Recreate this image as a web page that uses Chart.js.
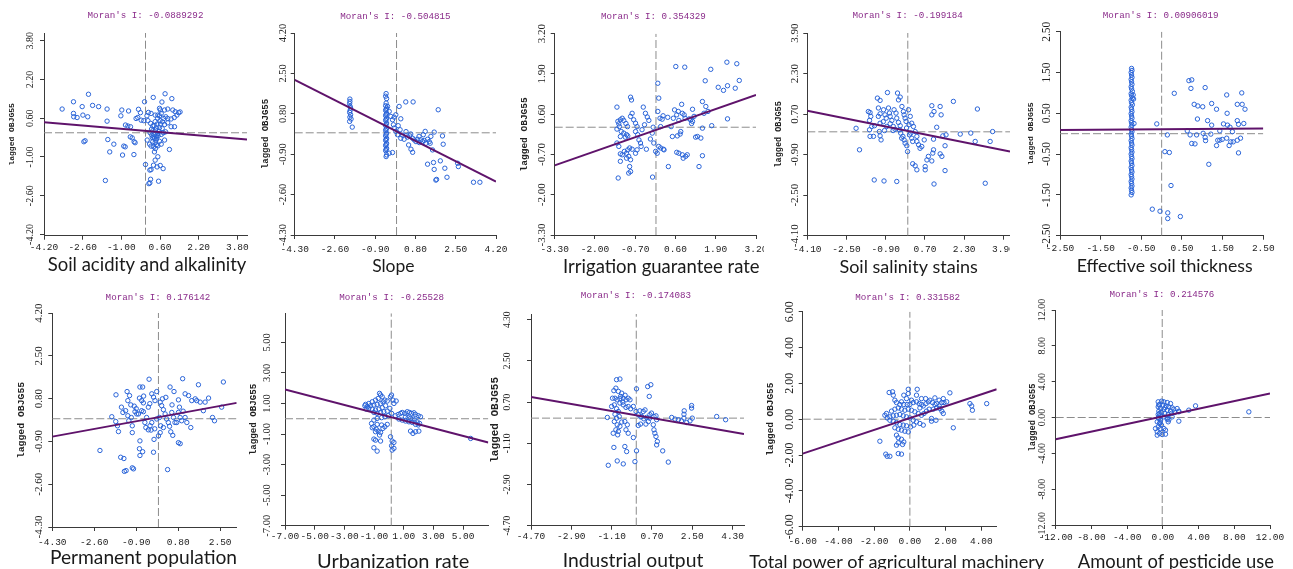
<!DOCTYPE html>
<html>
<head>
<meta charset="utf-8">
<script src="https://cdn.jsdelivr.net/npm/chart.js@4.4.1/dist/chart.umd.min.js"></script>
<style>
  body { margin: 0; background: #fff; width: 1293px; height: 569px; overflow: hidden; position: relative; }
  canvas { position: absolute; }
</style>
</head>
<body>
<script>
// x axis names and Moran's I values, one per panel
const names = ['Soil acidity and alkalinity', 'Slope', 'Irrigation guarantee rate', 'Soil salinity stains',
  'Effective soil thickness', 'Permanent population', 'Urbanization rate', 'Industrial output',
  'Total power of agricultural machinery', 'Amount of pesticide use'];
const moran = ['-0.0889292', '-0.504815', '0.354329', '-0.199184', '0.00906019',
  '0.176142', '-0.25528', '-0.174083', '0.331582', '0.214576'];

// axis ranges and tick values
const xRange = [[-4.2, 4.2], [-4.3, 4.2], [-3.3, 3.2], [-4.1, 4.17], [-2.5, 2.5],
  [-4.3, 3.17], [-7, 6.7], [-4.7, 4.81], [-6, 4.86], [-12, 12]];
const yRange = [[-4.25, 4.12], [-4.3, 4.2], [-3.3, 3.2], [-4.1, 3.9], [-2.5, 2.5],
  [-4.3, 4.2], [-7, 6.9], [-4.7, 4.55], [-6, 6], [-12, 12]];
const xTicks = [[-4.2, -2.6, -1, 0.6, 2.2, 3.8], [-4.3, -2.6, -0.9, 0.8, 2.5, 4.2], [-3.3, -2, -0.7, 0.6, 1.9, 3.2],
  [-4.1, -2.5, -0.9, 0.7, 2.3, 3.9], [-2.5, -1.5, -0.5, 0.5, 1.5, 2.5], [-4.3, -2.6, -0.9, 0.8, 2.5],
  [-7, -5, -3, -1, 1, 3, 5], [-4.7, -2.9, -1.1, 0.7, 2.5, 4.3], [-6, -4, -2, 0, 2, 4], [-12, -8, -4, 0, 4, 8, 12]];
const yTicks = [[-4.2, -2.6, -1, 0.6, 2.2, 3.8], [-4.3, -2.6, -0.9, 0.8, 2.5, 4.2], [-3.3, -2, -0.7, 0.6, 1.9, 3.2],
  [-4.1, -2.5, -0.9, 0.7, 2.3, 3.9], [-2.5, -1.5, -0.5, 0.5, 1.5, 2.5], [-4.3, -2.6, -0.9, 0.8, 2.5, 4.2],
  [-7, -5, -3, -1, 1, 3, 5], [-4.7, -2.9, -1.1, 0.7, 2.5, 4.3], [-6, -4, -2, 0, 2, 4, 6], [-12, -8, -4, 0, 4, 8, 12]];

// mean lines (x, y) and fitted line end points
const means = [[0, 0], [0, 0], [-0.03, 0.18], [0, 0], [0, 0], [0, 0], [0.16, 0], [0, 0], [0, 0], [-0.07, 0]];
const fits = [[[-4.2, 0.43], [4.2, -0.28]], [[-4.3, 2.23], [4.2, -2.05]], [[-3.3, -1.05], [3.2, 1.22]],
  [[-4.1, 0.83], [4.17, -0.78]], [[-2.5, 0.09], [2.5, 0.13]], [[-4.3, -0.71], [3.17, 0.63]],
  [[-7, 1.92], [6.7, -1.55]], [[-4.7, 0.92], [4.81, -0.69]], [[-6, -1.92], [4.86, 1.67]], [[-12, -2.42], [12, 2.68]]];

// scatter points [x, lagged y]
const acidity = [[-3.45,0.98],[-2.98,1.28],[-2.36,1.59],[-2.62,1.08],[-2.19,1.13],[-1.94,1.08],[-1.59,0.98],[-2.98,0.80],
  [-2.97,0.66],[-2.83,0.63],[-2.59,0.73],[-2.39,0.66],[-1.59,0.48],[-2.55,-0.37],[-2.50,-0.33],[-1.56,-0.28],[-1.31,-0.47],
  [-1.48,-0.79],[-0.98,0.94],[-0.70,0.90],[-1.02,0.70],[-0.83,0.32],[-0.73,0.28],[-0.62,0.25],[-0.63,-0.17],[-0.55,-0.21],
  [-0.47,-0.37],[-0.43,-0.41],[-0.90,-0.55],[-0.84,-0.58],[-0.95,-0.92],[-0.48,-0.90],[-1.66,-1.97],[-0.04,1.28],[-0.29,0.97],
  [-0.21,0.83],[-0.32,0.63],[-0.39,0.59],[-0.18,0.52],[-0.07,0.50],[0.32,1.46],[0.81,1.61],[1.09,1.41],[0.68,1.27],[0.61,0.94],
  [0.79,0.94],[0.92,0.98],[1.13,0.94],[1.23,0.87],[1.37,0.83],[1.43,0.86],[1.30,0.73],[1.19,0.63],[1.06,0.57],[0.92,0.59],
  [0.84,0.66],[0.76,0.59],[0.58,0.70],[0.51,0.73],[0.40,0.73],[0.23,0.80],[0.12,0.84],[0.06,0.70],[0.10,0.50],[0.21,0.39],
  [0.30,0.28],[0.40,0.46],[0.48,0.36],[0.62,0.36],[0.79,0.34],[0.92,0.41],[1.06,0.25],[1.20,0.25],[0.69,0.18],[0.58,0.21],
  [0.41,0.11],[0.30,0.08],[0.19,0.00],[0.26,-0.10],[0.34,-0.17],[0.44,-0.14],[0.51,-0.03],[0.65,-0.07],[0.74,0.00],[0.83,0.04],
  [0.37,-0.23],[0.44,-0.30],[0.30,-0.37],[0.17,-0.47],[0.07,-0.30],[0.23,-0.55],[0.34,-0.58],[0.41,-0.65],[0.51,-0.54],
  [0.65,-0.47],[0.79,-0.30],[0.99,-0.69],[0.37,-0.79],[0.51,-0.99],[0.40,-1.13],[0.33,-1.34],[0.48,-1.41],[0.61,-1.35],
  [0.73,-1.48],[0.00,-1.31],[0.18,-1.54],[0.23,-1.52],[0.21,-1.92],[0.14,-2.10],[0.18,-2.07],[0.54,-2.00],[0.58,1.01],[0.65,0.80],
  [0.28,-0.20],[0.36,-0.08],[0.46,-0.22],[0.40,-0.40],[0.52,-0.12],[0.25,0.15],[0.55,0.05],[0.45,0.20],[0.36,0.30],[0.60,0.50],
  [0.70,0.45],[0.50,0.60],[0.45,-0.50],[0.58,-0.35]];
const slope = [[-1.97,1.42],[-1.97,1.32],[-1.98,1.23],[-1.96,1.11],[-1.94,1.04],[-1.96,0.94],[-1.98,0.86],[-1.94,0.76],
  [-1.97,0.66],[-1.92,0.58],[-1.98,0.48],[-1.87,0.24],
  [-0.44,1.65],[-0.46,1.54],[-0.42,1.44],[-0.44,1.25],[-0.46,1.14],[-0.42,1.04],[-0.44,0.99],[-0.46,0.94],[-0.42,0.83],
  [-0.44,0.78],[-0.46,0.72],[-0.42,0.62],[-0.44,0.57],[-0.46,0.52],[-0.42,0.41],[-0.44,0.36],[-0.46,0.30],[-0.42,0.20],
  [-0.44,0.15],[-0.46,0.10],[-0.42,-0.01],[-0.44,-0.06],[-0.46,-0.13],[-0.42,-0.23],[-0.44,-0.28],[-0.46,-0.32],[-0.42,-0.44],
  [-0.44,-0.49],[-0.46,-0.54],[-0.42,-0.65],[-0.44,-0.70],[-0.46,-0.75],[-0.42,-0.93],[-0.44,-1.00],
  [-0.38,1.11],[-0.31,0.90],[-0.24,0.69],[-0.17,0.55],[-0.13,0.34],[-0.10,0.20],[-0.03,0.06],[-0.31,-0.86],[-0.17,-0.83],
  [0.11,1.11],[0.39,1.30],[0.70,1.30],[0.18,0.59],[-0.03,0.76],[-0.10,0.66],[0.07,0.30],[0.15,0.13],[0.04,-0.08],[0.18,-0.23],
  [0.32,-0.27],[0.46,-0.18],[0.56,-0.13],[0.68,-0.23],[0.75,-0.30],[0.89,-0.27],[1.03,-0.30],[1.17,-0.32],[1.31,-0.27],
  [1.21,0.06],[1.13,-0.08],[1.45,-0.15],[1.59,0.03],[1.94,-0.13],[1.76,0.97],[1.97,-0.48],[1.42,-0.44],[1.52,-0.72],[0.51,-0.51],
  [0.61,-0.69],[0.68,-0.82],[1.31,-1.32],[1.56,-1.25],[1.85,-1.18],[1.59,-1.54],[1.66,-1.99],[1.69,-1.96],[2.04,-1.49],
  [2.13,-1.87],[2.58,-1.28],[2.61,-1.42],[3.25,-2.08],[3.52,-2.08],[0.82,-0.37],[0.96,-0.41],[1.10,-0.37],[1.24,-0.44],
  [1.38,-0.37],[0.25,-0.10],[0.40,0.05],[0.60,-0.05],[0.95,-0.15]];
const irrigation = [[-1.29,0.83],[-1.26,0.37],[-1.23,0.29],[-1.21,0.20],[-1.29,0.12],[-1.18,0.42],[-1.12,0.47],[-1.07,0.40],
  [-1.15,0.04],[-1.07,-0.01],[-0.98,-0.06],[-1.18,-0.12],[-1.02,-0.14],[-0.94,-0.10],[-1.29,-0.33],[-1.23,-0.44],[-1.18,-0.68],
  [-1.12,-0.71],[-1.05,-0.60],[-0.98,-0.66],[-0.94,-0.55],[-0.88,-0.49],[-0.80,-0.53],[-0.91,-0.76],[-0.85,-0.87],[-0.98,-0.82],
  [-1.18,-0.92],[-0.88,-1.09],[-0.85,-1.25],[-0.91,-1.30],[-1.25,-1.46],[-0.85,1.15],[-0.82,1.06],[-0.80,0.63],[-0.85,0.53],
  [-0.75,0.42],[-0.69,0.31],[-0.64,0.20],[-0.69,0.04],[-0.62,-0.06],[-0.58,-0.23],[-0.53,-0.33],[-0.51,-0.44],[-0.64,-0.55],
  [-0.69,-0.66],[-0.44,0.83],[-0.37,0.63],[-0.31,0.51],[-0.26,0.40],[-0.40,0.26],[-0.48,0.10],[-0.34,-0.53],[-0.21,-0.20],
  [-0.15,-0.01],[-0.12,0.18],[-0.10,-0.33],[-0.04,-0.60],[0.01,-0.66],[-0.14,-1.43],[0.03,1.60],[0.06,1.12],[0.03,0.69],
  [0.10,0.47],[0.17,0.44],[0.12,0.20],[0.06,-0.44],[0.12,-0.49],[0.21,-0.53],[0.23,-0.55],[0.37,-1.09],[0.46,0.20],[0.53,0.47],
  [0.57,0.74],[0.64,0.58],[0.69,0.69],[0.71,0.40],[0.75,-0.04],[0.80,0.92],[0.66,-0.10],[0.77,0.04],[0.82,0.63],[0.88,0.58],
  [0.91,0.47],[0.50,-0.12],[0.61,2.14],[0.90,2.12],[0.64,-0.63],[0.71,-0.66],[0.82,-0.71],[0.93,-0.76],[0.85,-0.82],[0.98,-0.71],
  [1.09,0.42],[1.15,0.37],[1.20,0.53],[1.15,0.76],[1.25,-0.14],[1.31,-0.12],[1.47,0.15],[1.47,1.01],[1.58,0.85],[1.65,0.69],
  [1.52,0.63],[1.42,-0.17],[1.47,-0.74],[1.36,-1.09],[1.77,0.23],[1.74,2.05],[1.56,1.68],[1.98,1.47],[2.15,1.37],[2.26,2.28],
  [2.58,2.23],[2.66,1.69],[2.28,1.52],[2.53,1.44],[2.28,0.45],[1.05,0.45],[1.12,0.30],[-0.95,0.20],[-1.00,0.30],[0.20,0.55],[0.35,0.50]];
const salinity = [[-2.11,0.14],[-1.97,-0.71],[-1.61,0.80],[-1.54,0.76],[-1.51,0.61],[-1.56,0.45],[-1.47,0.21],[-1.56,0.08],
  [-1.54,-0.18],[-1.40,-0.18],[-1.36,0.24],[-1.24,1.33],[-1.13,1.24],[-1.20,0.94],[-1.13,0.71],[-1.20,0.61],[-1.13,0.34],
  [-1.16,0.01],[-1.13,-0.16],[-1.09,-0.32],[-0.99,0.87],[-0.93,0.67],[-0.88,0.54],[-0.86,0.21],[-0.83,1.55],[-0.79,0.94],
  [-0.75,0.74],[-0.72,0.61],[-0.65,0.45],[-0.72,0.32],[-0.59,0.21],[-0.56,0.87],[-0.48,0.74],[-0.42,1.53],[-0.38,1.26],
  [-0.31,1.37],[-0.45,0.54],[-0.38,0.37],[-0.31,0.24],[-0.34,0.08],[-0.29,-0.05],[-0.24,1.00],[-0.18,0.80],[-0.15,0.67],
  [-0.11,0.54],[-0.07,0.41],[-0.20,-0.18],[-0.15,-0.32],[-0.11,-0.45],[-0.01,-0.78],[-0.04,-0.55],[0.03,0.87],[0.10,0.61],
  [0.16,0.34],[0.23,0.21],[0.30,0.01],[0.07,-0.12],[0.16,-0.25],[0.20,-0.38],[0.37,-0.18],[0.20,-1.26],[0.30,-1.34],[0.37,-1.50],
  [0.57,-0.58],[0.67,-0.32],[0.84,-0.97],[0.78,-1.11],[0.71,-1.37],[0.71,-1.50],[0.98,1.03],[0.98,0.67],[1.07,0.80],[1.18,0.18],
  [1.32,1.00],[1.36,0.67],[1.05,-0.29],[1.05,-0.71],[1.02,-0.84],[0.98,-1.15],[1.32,-0.87],[1.39,-0.97],[1.52,-0.55],[1.52,-1.53],
  [1.07,-2.06],[1.43,-0.16],[1.56,-0.12],[1.86,1.20],[2.14,-0.09],[2.57,-0.05],[2.75,-0.38],[2.84,0.90],[3.16,-2.03],[3.36,-0.38],
  [3.46,0.01],[-1.37,-1.90],[-0.97,-1.94],[-0.45,-1.96],[0.37,-0.38],[0.44,-0.51],[0.50,-0.65],[-0.52,0.10],[-0.05,0.15],
  [0.05,0.28],[-0.25,-0.25],[0.12,-0.05],[-0.60,0.05],[-0.95,0.05],[-1.00,0.40]];
const thickness = [[-0.74,1.60],[-0.73,1.55],[-0.75,1.50],[-0.74,1.44],[-0.73,1.38],[-0.75,1.33],[-0.74,1.27],[-0.73,1.21],
  [-0.75,1.15],[-0.74,1.10],[-0.72,1.04],[-0.75,0.98],[-0.74,0.93],[-0.72,0.87],[-0.75,0.82],[-0.74,0.76],[-0.72,0.71],
  [-0.75,0.65],[-0.74,0.60],[-0.73,0.54],[-0.75,0.49],[-0.74,0.43],[-0.73,0.38],[-0.75,0.32],[-0.74,0.27],[-0.73,0.21],
  [-0.75,0.16],[-0.74,0.10],[-0.73,0.05],[-0.75,-0.01],[-0.74,-0.06],[-0.73,-0.12],[-0.75,-0.17],[-0.74,-0.23],[-0.73,-0.28],
  [-0.75,-0.34],[-0.74,-0.39],[-0.73,-0.45],[-0.75,-0.50],[-0.74,-0.56],[-0.73,-0.61],[-0.75,-0.67],[-0.74,-0.72],[-0.73,-0.78],
  [-0.75,-0.83],[-0.74,-0.89],[-0.73,-0.94],[-0.75,-1.00],[-0.74,-1.05],[-0.73,-1.11],[-0.75,-1.17],[-0.74,-1.22],[-0.73,-1.28],
  [-0.75,-1.33],[-0.74,-1.39],[-0.73,-1.44],[-0.75,-1.50],[-0.68,0.25],[-0.69,0.85],[-0.70,0.95],
  [-0.12,0.24],[-0.23,-1.85],[-0.04,-1.90],[0.15,-1.94],[0.15,-2.08],[0.46,-2.03],[0.23,-1.27],[0.08,-0.44],[0.19,-0.46],
  [0.14,-0.03],[0.31,0.99],[0.67,1.30],[0.74,1.32],[0.72,1.11],[1.07,1.13],[0.80,0.72],[0.89,0.68],[1.01,0.66],[1.23,0.74],
  [1.35,0.60],[1.61,0.50],[1.60,0.95],[1.97,1.00],[1.86,0.72],[1.98,0.72],[2.05,0.60],[0.88,0.36],[1.13,0.32],[1.23,0.21],
  [1.52,0.24],[1.62,0.21],[1.68,0.16],[1.86,0.32],[1.89,0.23],[2.02,0.25],[0.63,0.07],[0.70,-0.03],[0.86,-0.03],[1.02,0.01],
  [1.07,-0.09],[1.08,-0.17],[0.74,-0.24],[0.82,-0.25],[1.21,-0.01],[1.38,-0.16],[1.43,-0.16],[1.35,-0.29],[1.49,-0.14],
  [1.60,-0.11],[1.66,-0.29],[1.70,-0.20],[1.76,-0.20],[1.86,-0.16],[1.94,-0.11],[1.89,-0.47],[1.16,-0.75],[1.43,0.07],[1.74,0.05]];
const population = [[-2.37,-1.26],[-1.89,0.08],[-1.73,-0.11],[-1.66,-0.28],[-1.62,-0.51],[-1.72,0.95],[-1.53,-1.53],[-1.40,-1.58],
  [-1.38,-2.09],[-1.31,-2.06],[-1.50,0.46],[-1.44,0.25],[-1.33,0.32],[-1.27,1.08],[-1.17,0.92],[-1.24,0.72],[-1.12,0.55],
  [-1.24,0.12],[-1.10,0.05],[-1.20,-0.08],[-1.06,-0.28],[-1.06,-0.55],[-1.06,-1.95],[-1.01,-1.99],[-0.95,0.28],[-0.88,0.19],
  [-0.98,0.50],[-0.75,1.26],[-0.64,1.26],[-0.77,0.82],[-0.68,0.72],[-0.61,0.63],[-0.68,0.32],[-0.61,0.28],[-0.81,0.19],
  [-0.75,-0.88],[-0.77,-1.19],[-0.64,-1.31],[-0.75,-1.46],[-0.38,1.57],[-0.41,0.46],[-0.48,0.05],[-0.55,-0.15],[-0.51,-0.35],
  [-0.41,-0.44],[-0.34,-0.28],[-0.27,-0.15],[-0.18,-0.82],[-0.20,-1.33],[-0.27,0.99],[-0.20,0.86],[-0.14,0.72],[-0.07,1.08],
  [-0.07,-0.01],[0.04,0.05],[0.09,-0.28],[0.07,-0.55],[0.00,-0.68],[0.07,0.66],[0.13,0.52],[0.20,0.36],[0.16,0.79],[0.27,0.19],
  [0.33,-0.01],[0.40,-0.15],[0.37,-2.02],[0.47,1.26],[0.63,1.08],[0.54,0.25],[0.61,0.05],[0.67,-0.15],[0.50,-0.52],[0.58,-0.66],
  [0.81,0.75],[0.85,0.46],[0.81,0.25],[0.88,0.05],[0.81,-0.95],[0.88,-0.99],[0.74,-0.15],[0.94,-0.08],[1.08,0.05],[1.15,-0.15],
  [1.31,-0.35],[0.98,1.59],[1.08,0.99],[1.22,0.92],[1.35,0.72],[1.55,0.72],[1.62,1.35],[1.69,0.66],[1.49,0.79],[1.82,0.32],
  [1.89,0.66],[2.03,0.82],[2.19,0.05],[2.27,-0.08],[2.63,1.46],[2.56,0.46],[-0.30,-0.45],[-0.15,-0.40],[0.20,-0.35],[0.45,-0.30],
  [-0.60,0.90],[-0.35,0.60],[0.30,0.85],[0.55,0.55],[-0.90,0.40],[1.00,0.30]];
const urbanization = [[-0.63,1.66],[-0.56,1.55],[-0.45,1.44],[-0.72,1.33],[-0.90,1.22],[-1.12,1.11],[-1.35,1.00],[-1.57,0.94],
  [-1.62,0.85],[-1.46,0.79],[-1.24,0.85],[-1.01,0.90],[-0.79,0.94],[-0.56,1.00],[-0.40,1.11],[-0.27,1.22],[-0.11,1.16],
  [-0.22,0.85],[-0.45,0.72],[-0.67,0.63],[-0.90,0.57],[-1.12,0.63],[-1.35,0.68],[-1.53,0.63],[-1.01,0.41],[-0.79,0.35],
  [-0.56,0.41],[-0.34,0.46],[-0.11,0.50],[0.11,1.44],[0.18,1.55],[0.27,1.22],[0.49,1.16],[0.34,1.00],[0.07,0.68],[0.18,0.35],
  [-0.04,0.20],[-0.27,0.13],[-0.49,0.07],[-0.79,0.02],[-1.01,-0.09],[-1.17,-0.31],[-1.01,-0.52],[-0.85,-0.68],[-0.72,-0.81],
  [-0.56,-0.90],[-0.40,-0.63],[-0.27,-0.52],[-0.11,-0.37],[-0.49,-0.41],[-0.79,-0.37],[-1.12,-0.59],[-0.90,-0.85],[-0.63,-1.07],
  [-1.01,-1.33],[-0.90,-1.40],[-0.56,-1.46],[-1.01,-1.90],[-0.79,-2.12],[0.11,-1.18],[0.22,-1.46],[0.34,-1.55],[0.18,-1.77],
  [0.34,-1.94],[0.22,-2.05],[0.45,0.20],[0.63,0.28],[0.79,0.35],[0.90,0.41],[1.08,0.35],[1.24,0.46],[1.39,0.41],[1.53,0.35],
  [1.69,0.39],[1.80,0.28],[1.98,0.20],[2.13,0.13],[1.12,0.13],[1.30,0.07],[1.46,0.02],[1.62,-0.02],[1.75,-0.09],[1.91,-0.20],
  [2.07,-0.31],[1.98,-0.41],[1.80,-0.37],[1.57,-0.24],[1.35,-0.20],[1.12,-0.15],[0.90,-0.09],[0.67,-0.02],[1.46,-0.81],
  [1.62,-0.96],[1.80,-0.85],[2.02,-0.81],[5.51,-1.29]];
const industry = [[-0.88,1.68],[-0.73,1.71],[-0.91,1.31],[-1.00,1.20],[-0.80,1.17],[-0.65,1.09],[-0.95,0.87],[-0.85,0.80],
  [-0.73,0.85],[-0.58,0.87],[-0.46,0.80],[-0.36,0.87],[-0.28,0.80],[-1.06,0.87],[-1.10,0.51],[-0.98,0.58],[-0.88,0.41],
  [-0.73,0.66],[-0.58,0.58],[-0.46,0.47],[-0.36,0.51],[-0.25,0.41],[-0.13,0.51],[-0.80,0.29],[-0.95,0.17],[-0.76,0.07],
  [-0.88,0.00],[-0.98,-0.15],[-0.85,-0.29],[-0.73,-0.36],[-0.91,-0.51],[-0.80,-0.58],[-1.03,-0.66],[-0.83,-0.73],[-0.65,-0.17],
  [-0.51,-0.15],[-0.40,-0.29],[-0.46,-0.51],[-0.36,-0.66],[-0.13,-0.85],[-1.29,0.03],[0.01,1.28],[-0.01,0.29],[0.09,0.15],
  [0.16,0.32],[0.31,0.29],[0.39,0.36],[0.24,0.07],[0.34,-0.03],[0.46,0.03],[0.54,-0.15],[0.43,-0.26],[0.61,0.15],[0.68,0.22],
  [0.79,0.07],[0.88,0.10],[0.91,-0.07],[0.19,-0.26],[0.09,-0.32],[0.51,1.38],[0.65,1.46],[0.58,0.95],[0.76,-0.29],[0.79,-0.51],
  [0.83,-0.66],[0.88,-0.80],[0.94,-1.02],[0.91,-1.17],[1.18,-1.43],[1.43,-1.92],[0.01,-1.43],[-0.06,-1.90],[-0.85,-1.87],
  [-0.58,-2.00],[-1.25,-2.06],[-1.00,-1.28],[-0.51,-1.24],[-0.43,-1.46],[1.58,0.03],[1.73,-0.04],[1.88,-0.07],[2.02,-0.12],
  [2.13,0.00],[2.14,0.32],[2.13,0.17],[2.47,0.55],[2.47,0.44],[2.50,0.00],[3.59,0.07],[3.99,-0.07],[2.25,-0.19],[2.40,-0.12],
  [-0.70,0.95],[-0.60,0.70],[-0.50,1.00],[0.20,0.05],[0.60,0.00]];
const machinery = [[-0.09,1.67],[0.41,1.67],[-0.09,1.43],[-0.34,1.34],[0.37,1.34],[-0.19,1.15],[0.09,1.06],[-0.47,0.97],
  [-0.75,0.93],[-0.84,1.06],[-0.56,0.82],[-0.93,1.34],[-0.97,1.53],[-1.16,1.49],[-0.34,0.82],[-0.15,0.82],[0.00,0.82],[0.19,0.93],
  [0.37,0.97],[0.52,0.87],[0.65,0.82],[0.56,0.63],[0.75,0.74],[0.90,0.87],[1.03,0.97],[1.12,1.06],[1.27,0.93],[1.40,0.82],
  [1.50,0.87],[1.64,0.74],[1.78,0.93],[1.91,0.93],[1.68,0.60],[1.50,0.63],[1.31,0.56],[1.08,0.56],[0.93,0.45],[0.79,0.32],
  [0.65,0.22],[0.47,0.32],[0.28,0.41],[0.09,0.50],[-0.09,0.56],[-0.28,0.50],[-0.47,0.56],[-0.65,0.63],[-0.84,0.56],[-1.03,0.45],
  [-1.31,0.32],[-1.40,0.22],[-1.27,0.07],[-1.12,0.13],[-0.93,0.19],[-0.75,0.22],[-0.56,0.26],[-0.37,0.19],[-0.19,0.13],
  [0.00,0.07],[0.19,-0.06],[0.37,-0.15],[0.56,-0.24],[0.75,-0.33],[0.22,-0.33],[0.04,-0.43],[-0.19,-0.37],[-0.37,-0.33],
  [-0.56,-0.30],[-0.75,-0.19],[-0.93,-0.11],[-1.12,-0.06],[-0.84,-0.48],[-0.65,-0.56],[-0.47,-0.61],[-0.28,-0.67],[-0.09,-0.71],
  [-0.75,-0.89],[-0.65,-1.04],[-0.47,-1.12],[-0.34,-1.27],[-0.65,-1.32],[-0.41,-1.41],[-0.75,-1.45],[-1.68,-1.23],[-1.35,-1.95],
  [-1.27,-2.07],[-1.12,-2.07],[-0.65,-1.92],[-0.47,-1.95],[1.21,0.04],[1.46,-0.06],[1.87,0.32],[1.79,0.45],[2.24,1.47],
  [1.87,1.15],[2.06,0.97],[3.36,0.87],[3.46,0.74],[3.50,0.50],[4.30,0.87],[2.43,-0.48],[1.21,-0.11],[0.88,1.15],[0.65,1.15],
  [1.40,1.19],[1.64,1.06]];
const pesticide = [[-0.52,1.75],[-0.15,1.82],[0.11,1.75],[0.49,1.67],[0.86,1.56],[-0.37,1.45],[0.00,1.38],[0.37,1.30],[0.67,1.19],
  [1.04,1.08],[-0.52,1.19],[-0.26,1.00],[0.11,0.93],[0.49,0.82],[0.86,0.71],[1.23,0.93],[1.60,1.00],[-0.45,0.71],[-0.15,0.56],
  [0.22,0.45],[0.60,0.33],[0.97,0.45],[1.34,0.56],[1.79,0.71],[-0.52,0.33],[-0.26,0.19],[0.11,0.07],[0.49,-0.04],[0.67,-0.26],
  [-0.45,-0.11],[-0.26,-0.30],[-0.63,-0.48],[-0.37,-0.67],[-0.15,-0.86],[-0.52,-1.04],[-0.26,-1.23],[-0.82,-1.23],[0.11,-1.23],
  [0.30,-1.41],[-0.63,-1.60],[-0.37,-1.78],[-0.07,-1.90],[-0.63,-1.97],[0.30,-1.86],[0.49,-0.19],[0.60,-0.48],[1.79,-0.41],
  [2.91,0.82],[3.66,1.30],[9.63,0.63],[1.79,0.63],[1.04,0.07],[-0.40,0.45],[-0.50,0.00],[-0.30,-0.55],[-0.45,1.40],[0.25,1.10]];
const series = [acidity, slope, irrigation, salinity, thickness, population, urbanization, industry, machinery, pesticide];

// where each panel sits on the page (plot box, label offsets, text sizes)
const frames = [
  {L: 44, T: 33, R: 247, B: 235.7, ylo: 13.3, yfs: 10, ytx: 12.3, yts: 8, tY: 16, tdx: 0, xlo: 12, xtY: 265, xts: 18.5, xdx: 1.5, rp: 15},
  {L: 294.7, T: 33, R: 496, B: 235, ylo: 11.7, yfs: 10.5, ytx: 266, yts: 9, tY: 17, tdx: 0, xlo: 14.3, xtY: 266.7, xts: 17.5, xdx: -2, rp: 15},
  {L: 554.7, T: 33.7, R: 756, B: 235, ylo: 12.2, yfs: 11, ytx: 525, yts: 9.5, tY: 16.7, tdx: -2, xlo: 14.3, xtY: 266.7, xts: 18.5, xdx: 6, rp: 4},
  {L: 807.3, T: 33, R: 1010, B: 235.7, ylo: 11.8, yfs: 11, ytx: 779, yts: 8.5, tY: 16, tdx: -1, xlo: 13.7, xtY: 266.7, xts: 18, xdx: 0, rp: 0},
  {L: 1060, T: 31.7, R: 1263.3, B: 235.7, ylo: 12.8, yfs: 11.5, ytx: 1030.7, yts: 8, tY: 15.7, tdx: -1, xlo: 13, xtY: 266.7, xts: 17.7, xdx: 3, rp: 15},
  {L: 52.3, T: 313, R: 236.7, B: 527, ylo: 13, yfs: 11, ytx: 21.7, yts: 9.8, tY: 297.7, tdx: 13.5, xlo: 15.7, xtY: 558.3, xts: 19.2, xdx: -1, rp: 15},
  {L: 285, T: 313.3, R: 488.3, B: 525.7, ylo: 17.7, yfs: 10.5, ytx: 253.3, yts: 9.2, tY: 297.7, tdx: 5, xlo: 11, xtY: 561.7, xts: 20, xdx: 6.5, rp: 15},
  {L: 531, T: 314, R: 744, B: 525.7, ylo: 23.2, yfs: 9.5, ytx: 495, yts: 11, tY: 295.7, tdx: -1.5, xlo: 11, xtY: 561, xts: 19.3, xdx: -4.5, rp: 15},
  {L: 802.7, T: 311.7, R: 996.7, B: 526.7, ylo: 13, yfs: 12, ytx: 770.7, yts: 9.4, tY: 297.7, tdx: 8, xlo: 14.3, xtY: 561.7, xts: 18.1, xdx: -3, rp: 15},
  {L: 1055.7, T: 310, R: 1270, B: 525, ylo: 13.7, yfs: 10, ytx: 1033.3, yts: 8.7, tY: 295, tdx: -1, xlo: 12.7, xtY: 561.7, xts: 18.4, xdx: 13, rp: 15}
];

const mono = '"Liberation Mono", "DejaVu Sans Mono", monospace';
const serif = '"Liberation Serif", "DejaVu Serif", serif';
const sans = 'Lato, "Open Sans", sans-serif';
const tickFont = {family: mono, size: 9.5};
const fmt = v => Number(v).toFixed(2);
const meas = document.createElement('canvas').getContext('2d');
function textWidth(s, font) { meas.font = font; return meas.measureText(s).width; }
function widest(vals, size) {
  return Math.max(...vals.map(v => textWidth(fmt(v), size + 'px ' + serif)));
}

// Moran's I line above each plot and the variable name below it
const panelText = {
  id: 'panelText',
  afterDraw(chart, args, opts) {
    const {ctx, chartArea} = chart;
    const mid = (chartArea.left + chartArea.right) / 2;
    ctx.save();
    ctx.textAlign = 'center';
    ctx.textBaseline = 'middle';
    ctx.font = '9.2px ' + mono;
    ctx.fillStyle = '#8a2b8a';
    ctx.fillText(opts.title, mid + opts.tdx, opts.ty);
    ctx.font = opts.xts + 'px ' + sans;
    ctx.fillStyle = '#1a1a1a';
    ctx.fillText(opts.name, mid + opts.xdx, opts.xy);
    ctx.restore();
  }
};

function makePanel(i) {
  const f = frames[i];
  const nameW = textWidth(names[i], f.xts + 'px ' + sans);
  const nameMid = (f.L + f.R) / 2 + f.xdx;
  const CL = Math.floor(Math.min(f.ytx - 8, nameMid - nameW / 2 - 4));
  const CT = Math.round(f.tY - 10);
  const CR = Math.ceil(Math.max(f.R + f.rp, nameMid + nameW / 2 + 4));
  const CB = Math.round(f.xtY + 14);
  const cv = document.createElement('canvas');
  cv.width = CR - CL; cv.height = CB - CT;
  cv.style.left = CL + 'px'; cv.style.top = CT + 'px';
  cv.style.width = (CR - CL) + 'px'; cv.style.height = (CB - CT) + 'px';
  document.body.appendChild(cv);

  const yW = f.L - CL, xH = CB - f.B;
  const [x0, x1] = xRange[i], [y0, y1] = yRange[i];
  const [mx, my] = means[i];
  const axisColor = '#3a3a3a';
  const dash = {type: 'line', borderColor: '#8c8c8c', borderWidth: 1, borderDash: [8, 3], pointRadius: 0, tension: 0};

  new Chart(cv, {
    type: 'scatter',
    data: {
      datasets: [
        {type: 'line', data: fits[i].map(p => ({x: p[0], y: p[1]})), borderColor: '#5f136b', borderWidth: 2, pointRadius: 0, tension: 0},
        {data: series[i].map(p => ({x: p[0], y: p[1]})), pointStyle: 'circle', pointRadius: 2.2,
          borderWidth: 1, borderColor: '#2a64d8', backgroundColor: 'rgba(0,0,0,0)'},
        {...dash, data: [{x: mx, y: y0}, {x: mx, y: y1}]},
        {...dash, data: [{x: x0, y: my}, {x: x1, y: my}]}
      ]
    },
    options: {
      responsive: false,
      animation: false,
      devicePixelRatio: 1,
      layout: {autoPadding: false, padding: {left: 0, top: f.T - CT, right: CR - f.R, bottom: 0}},
      plugins: {
        legend: {display: false},
        tooltip: {enabled: false},
        panelText: {title: "Moran's I: " + moran[i], tdx: f.tdx, ty: f.tY - CT,
          name: names[i], xts: f.xts, xdx: f.xdx, xy: f.xtY - CT}
      },
      scales: {
        x: {
          type: 'linear', position: 'bottom', min: x0, max: x1,
          afterBuildTicks: s => { s.ticks = xTicks[i].map(v => ({value: v})); },
          afterFit: s => { s.height = xH; s.paddingLeft = 0; s.paddingRight = 0; },
          ticks: {callback: fmt, font: tickFont, color: '#222', padding: f.xlo - 4 - tickFont.size * 0.6,
            maxRotation: 0, autoSkip: false},
          grid: {drawOnChartArea: false, drawTicks: true, tickLength: 4, color: axisColor},
          border: {display: true, color: axisColor, width: 1}
        },
        y: {
          type: 'linear', position: 'left', min: y0, max: y1,
          afterBuildTicks: s => { s.ticks = yTicks[i].map(v => ({value: v})); },
          afterFit: s => { s.width = yW; s.paddingTop = 0; s.paddingBottom = 0; },
          ticks: {callback: fmt, font: {family: serif, size: f.yfs}, color: '#222', minRotation: 90, maxRotation: 90,
            crossAlign: 'center', autoSkip: false, padding: f.ylo - 4 - widest(yTicks[i], f.yfs) / 2},
          grid: {drawOnChartArea: false, drawTicks: true, tickLength: 4, color: axisColor},
          border: {display: true, color: axisColor, width: 1},
          title: {display: true, text: 'lagged OBJG55', color: '#222',
            font: {family: mono, size: f.yts, weight: 'bold'},
            padding: {top: (f.ytx - CL) - f.yts * 0.6, bottom: 0}}
        }
      }
    },
    plugins: [panelText]
  });
}

for (let i = 0; i < frames.length; i++) makePanel(i);
</script>
</body>
</html>
